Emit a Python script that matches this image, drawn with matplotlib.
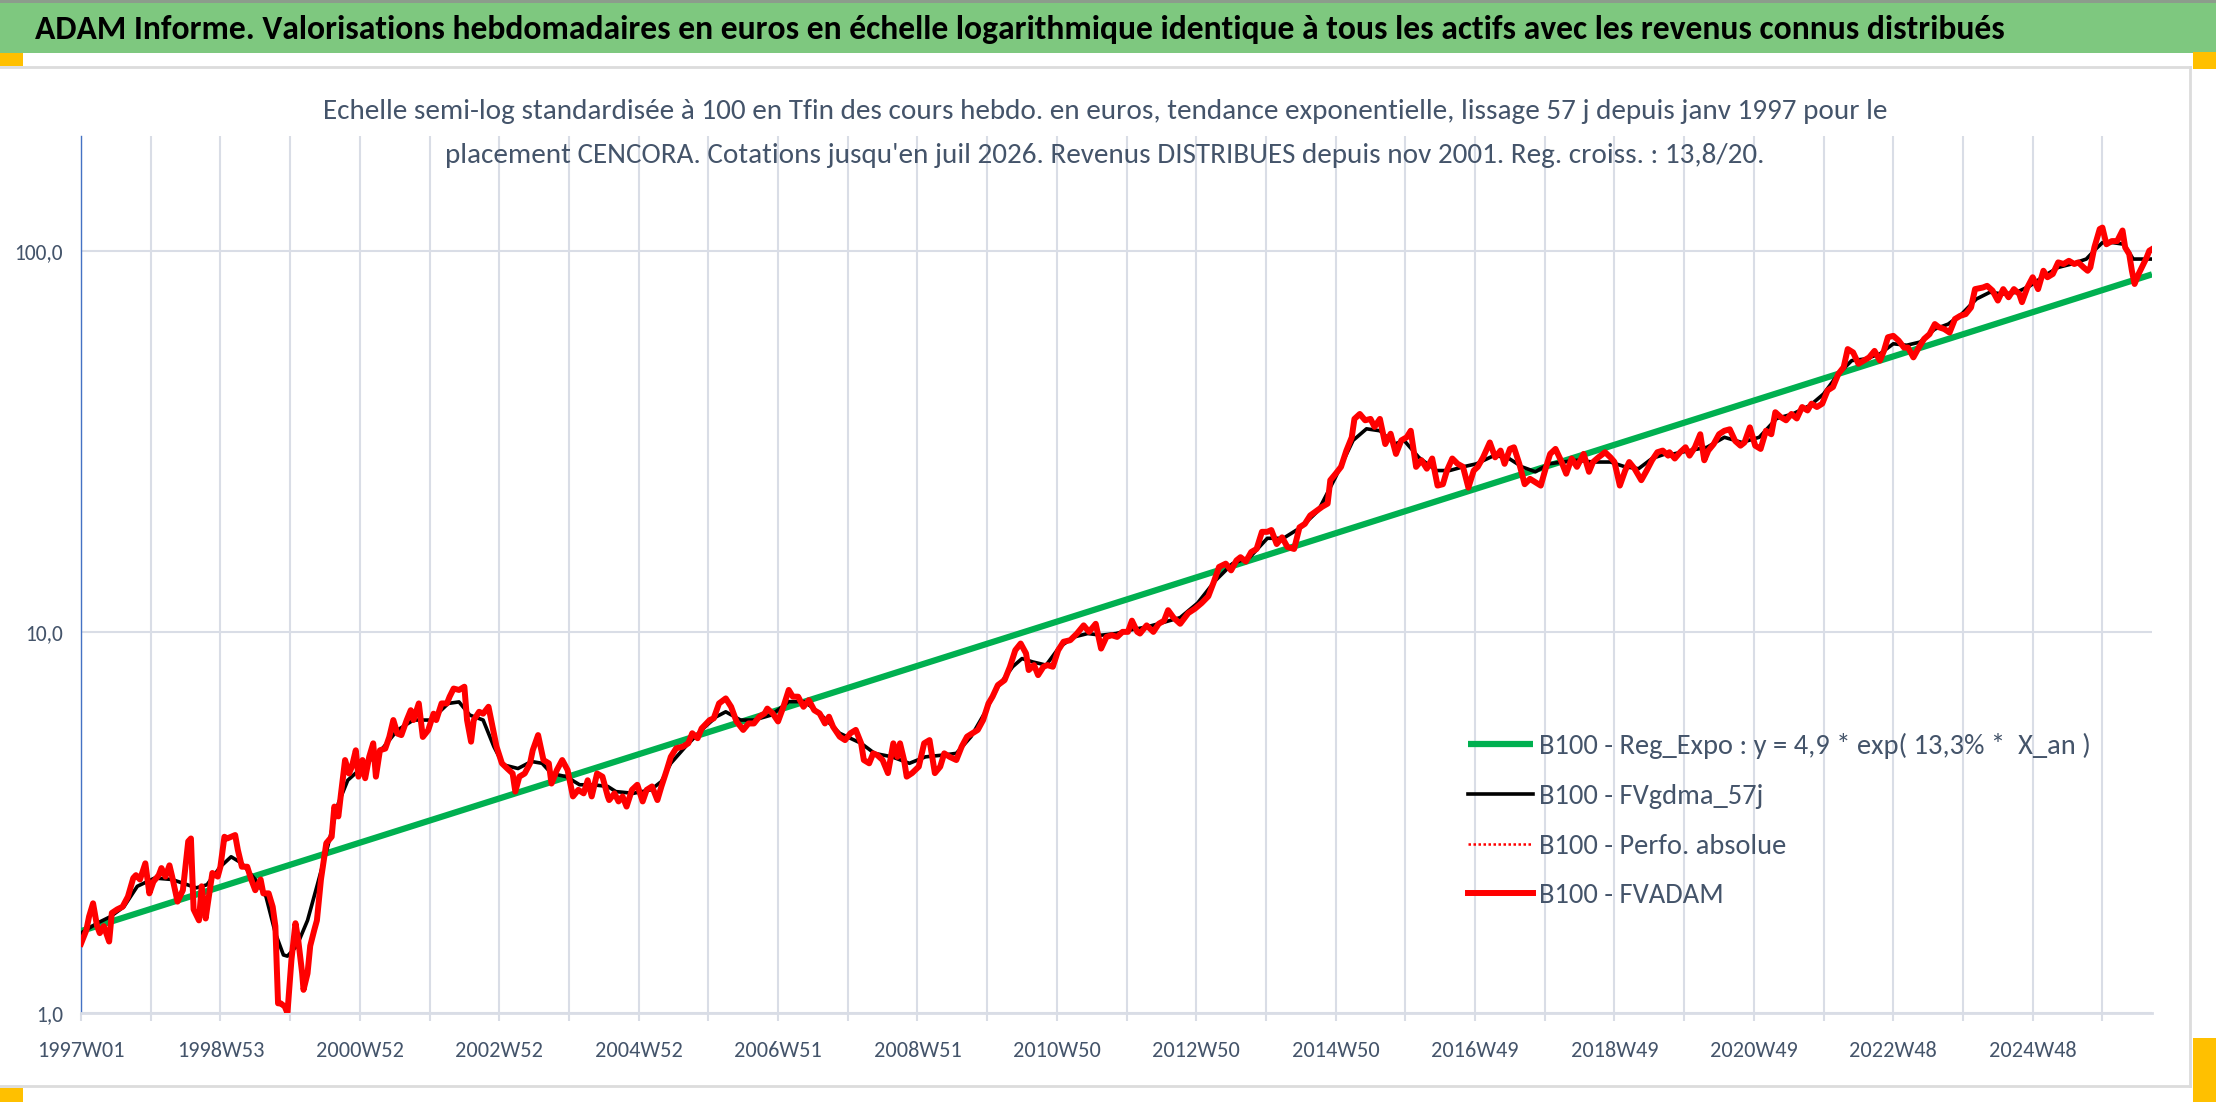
import matplotlib
matplotlib.use("Agg")
import matplotlib.pyplot as plt
from matplotlib.patches import Rectangle
from matplotlib.lines import Line2D
from matplotlib.ticker import FixedLocator, NullLocator, FixedFormatter

FONT = ['Carlito', 'Archivo Narrow', 'DejaVu Sans']
plt.rcParams['font.family'] = FONT

# ---- data (weekly index from 1997W01, values base 100) ----
n_weeks = 1546
week_labels = ['1997W01', '1998W53', '2000W52', '2002W52', '2004W52', '2006W51',
               '2008W51', '2010W50', '2012W50', '2014W50', '2016W49', '2018W49',
               '2020W49', '2022W48', '2024W48']

# FVADAM (red)
red_x = [0, 4, 6, 9, 12, 14, 17, 21, 23, 27, 31, 35, 39, 41, 44, 48, 51, 54, 58, 60,
         63, 66, 68, 72, 76, 80, 82, 84, 88, 90, 93, 95, 98, 102, 104, 107, 109, 112, 115, 117,
         120, 124, 127, 130, 134, 136, 140, 143, 145, 147, 149, 152, 154, 157, 160, 162, 165, 166, 169, 171,
         174, 176, 179, 183, 187, 189, 192, 194, 197, 200, 202, 205, 207, 210, 212, 215, 218, 220, 223, 227,
         230, 233, 236, 239, 243, 246, 248, 252, 255, 259, 263, 265, 269, 273, 275, 278, 282, 286, 288, 291,
         293, 297, 300, 304, 306, 310, 314, 318, 322, 324, 327, 331, 335, 337, 341, 345, 349, 351, 355, 359,
         363, 367, 371, 375, 378, 381, 385, 389, 393,
         394, 398, 401, 404, 407, 411, 415, 419, 422, 426, 430, 433, 437, 440, 444, 449, 453, 456, 460, 463,
         469, 472, 476, 481, 485, 489, 494, 498, 502, 506, 510, 512, 516, 520, 524, 528, 531, 535, 539, 543,
         547, 551, 555, 558, 561, 566, 570, 574, 578, 582, 584, 588, 591, 594, 598, 602, 606, 609, 611, 614,
         616, 620, 625, 629, 633, 637, 641, 644, 648, 653, 657, 661, 665, 669, 673, 677, 680, 684, 689, 693,
         697, 701, 705, 707, 711, 714, 718, 721, 725, 729, 733, 738, 743, 748, 752, 757, 761, 765, 769, 773,
         777, 781, 784, 788,
         790, 795, 800, 804, 808, 811, 815, 820, 826, 831, 836, 841, 845, 849, 854, 858, 862, 865, 869, 873,
         877, 881, 885, 888, 892, 896, 900, 905, 909, 913, 917, 922, 926, 930, 932, 936, 940, 944, 948, 950,
         954, 958, 962, 965, 969, 973, 977, 981, 985, 989, 992, 996, 1000, 1004, 1008, 1012, 1016, 1019, 1023, 1027,
         1031, 1035, 1039, 1042, 1046, 1051, 1055, 1059, 1062, 1066, 1069, 1073, 1077, 1081, 1085, 1089, 1093, 1096, 1100, 1104,
         1108, 1112, 1116, 1121, 1125, 1128, 1132, 1137, 1141, 1144, 1148, 1152, 1155, 1159, 1164, 1168, 1172, 1176, 1180, 1184,
         1185, 1189, 1193, 1197, 1200, 1204, 1208, 1211, 1214, 1218, 1222, 1226, 1230, 1234, 1238, 1241, 1245, 1249, 1253, 1257,
         1261, 1264, 1268, 1272, 1276, 1280, 1284, 1288, 1291, 1295, 1299, 1303, 1307, 1311, 1315, 1318, 1322, 1326, 1330, 1334,
         1338, 1342, 1345, 1348, 1352, 1356, 1360, 1363, 1367, 1371, 1375, 1379, 1383, 1386, 1390, 1394, 1398, 1402, 1406, 1410,
         1413, 1419, 1422, 1426, 1430, 1434, 1438, 1442, 1446, 1448, 1452, 1456, 1460, 1464, 1467, 1471, 1475, 1479, 1483, 1487,
         1490, 1494, 1497, 1499, 1502, 1506, 1508, 1511, 1515, 1519, 1523, 1525, 1528, 1530, 1532, 1535, 1538, 1541, 1543, 1545]
red_y = [1.52, 1.65, 1.79, 1.94, 1.69, 1.62, 1.69, 1.54, 1.83, 1.87, 1.90, 2.02, 2.26, 2.30, 2.24, 2.47, 2.06, 2.21, 2.30, 2.40,
         2.28, 2.44, 2.28, 1.96, 2.10, 2.82, 2.87, 1.87, 1.75, 2.15, 1.77, 1.98, 2.33, 2.28, 2.42, 2.90, 2.87, 2.90, 2.93, 2.68,
         2.42, 2.42, 2.24, 2.10, 2.24, 2.06, 2.06, 1.90, 1.69, 1.06, 1.06, 1.04, 1.00, 1.38, 1.72, 1.56, 1.27, 1.15, 1.27, 1.50,
         1.65, 1.75, 2.24, 2.79, 2.90, 3.48, 3.28, 3.77, 4.61, 4.25, 4.42, 4.89, 4.17, 4.61, 4.13, 4.70, 5.10, 4.17, 4.89, 4.94,
         5.30, 5.87, 5.41, 5.36, 5.87, 6.23, 5.87, 6.49, 5.30, 5.52, 6.10, 5.87, 6.49, 6.49, 6.76, 7.10, 7.04, 7.18, 5.87, 5.15,
         5.87, 6.17, 6.10, 6.36, 5.87, 5.00, 4.52, 4.38, 4.25, 3.81, 4.17, 4.25, 4.52, 4.89, 5.36, 4.61, 4.52, 4.00, 4.34, 4.61,
         4.34, 3.70, 3.85, 3.77, 4.08, 3.70, 4.25, 4.17, 3.70,
         3.62, 3.77, 3.59, 3.70, 3.48, 3.85, 3.97, 3.59, 3.85, 3.93, 3.62, 3.93, 4.34, 4.70, 4.95, 5.00, 5.10, 5.42, 5.26, 5.58,
         5.87, 5.93, 6.49, 6.69, 6.36, 5.82, 5.53, 5.75, 5.75, 5.99, 6.11, 6.29, 6.11, 5.82, 6.36, 7.04, 6.76, 6.76, 6.36, 6.62,
         6.23, 6.11, 5.75, 5.99, 5.64, 5.31, 5.20, 5.42, 5.53, 5.10, 4.61, 4.52, 4.80, 4.75, 4.61, 4.26, 5.10, 4.70, 5.10, 4.61,
         4.17, 4.26, 4.43, 5.10, 5.20, 4.26, 4.43, 4.80, 4.70, 4.61, 5.00, 5.31, 5.42, 5.53, 5.87, 6.49, 6.76, 7.25, 7.47, 8.10,
         8.95, 9.32, 8.78, 7.94, 8.18, 7.70, 8.10, 8.18, 8.10, 8.95, 9.42, 9.51, 9.90, 10.4, 10.0, 10.5, 9.04, 9.70, 9.80, 9.70,
         10.0, 10.0, 10.7, 10.0,
         9.9, 10.4, 10.0, 10.5, 10.7, 11.4, 10.9, 10.5, 11.2, 11.5, 11.9, 12.4, 13.5, 14.8, 15.1, 14.5, 15.4, 15.7, 15.3, 16.2,
         16.5, 18.3, 18.3, 18.5, 17.0, 17.7, 16.7, 16.5, 18.8, 19.2, 20.2, 20.8, 21.3, 21.7, 25.0, 26.0, 27.1, 29.9, 32.4, 36.2,
         37.3, 35.9, 36.2, 34.5, 36.2, 31.1, 33.1, 29.3, 31.8, 32.4, 33.7, 27.1, 28.2, 26.8, 28.5, 24.2, 24.4, 26.5, 28.5, 27.6,
         27.1, 23.9, 26.5, 27.1, 28.7, 31.4, 28.7, 29.9, 27.6, 30.2, 30.5, 27.6, 24.4, 25.2, 24.7, 24.2, 27.1, 29.3, 30.2, 28.2,
         26.0, 28.5, 27.1, 29.3, 26.3, 27.9, 28.7, 29.6, 28.7, 27.9, 24.2, 26.5, 27.9, 26.8, 25.0, 26.5, 28.2, 29.6, 29.9, 29.0,
         29.6, 28.5, 29.6, 30.5, 29.0, 30.5, 33.0, 28.2, 29.9, 31.1, 33.0, 33.7, 34.0, 31.7, 30.8, 31.4, 34.4, 30.8, 30.2, 33.7,
         33.0, 37.7, 36.6, 35.9, 37.3, 36.3, 38.9, 38.1, 39.7, 38.9, 39.7, 43.0, 43.9, 47.5, 49.5, 55.2, 54.1, 50.5, 51.5, 52.5,
         54.6, 51.5, 54.6, 59.3, 59.8, 58.1, 55.7, 55.7, 52.5, 55.7, 58.7, 60.4, 64.2, 63.0, 62.3, 61.0, 66.2, 67.5, 68.2, 71.0,
         79.3, 80.1, 80.9, 78.6, 74.0, 79.3, 75.5, 79.3, 77.0, 73.3, 80.1, 85.2, 79.3, 88.6, 85.2, 86.9, 93.2, 92.3, 94.1, 92.3,
         93.2, 90.4, 88.6, 90.4, 102, 114, 115, 104, 106, 106, 113, 102, 98, 88.6, 81.8, 86.9, 91.3, 96.0, 100, 101]

# FVgdma_57j (black, smoothed)
black_x = [0, 12, 22, 32, 42, 55, 68, 76, 86, 94, 104, 112, 120, 130, 138, 145, 151, 154, 161, 169,
           176, 184, 192, 199, 210, 223, 236, 248, 261, 274, 282, 290, 300, 308, 315, 326, 336, 344, 351, 362,
           372, 382, 393, 399, 412, 425, 433, 440, 451, 463, 474, 481, 492, 502, 515, 528, 540, 551, 566, 582,
           592, 605, 618, 630, 643, 653, 664, 674, 684, 695, 702, 710, 720, 730, 741, 751, 761, 772, 782, 795,
           808, 820, 833, 846, 859, 872, 885, 897, 910, 923, 936, 949, 959, 969, 980, 987, 998, 1011, 1021, 1031,
           1041, 1054, 1064, 1075, 1085, 1095, 1105, 1116, 1128, 1141, 1152, 1162, 1172, 1182, 1188, 1200, 1213, 1226, 1239, 1252,
           1265, 1277, 1290, 1300, 1311, 1321, 1331, 1342, 1352, 1362, 1372, 1383, 1393, 1403, 1414, 1424, 1434, 1444, 1454, 1465,
           1475, 1485, 1496, 1503, 1508, 1516, 1524, 1531, 1545]
black_y = [1.62, 1.72, 1.79, 1.90, 2.15, 2.26, 2.24, 2.19, 2.13, 2.17, 2.42, 2.57, 2.47, 2.24, 2.02, 1.62, 1.42, 1.41, 1.50, 1.75,
           2.15, 2.73, 3.55, 4.08, 4.42, 4.85, 5.52, 5.87, 5.87, 6.49, 6.55, 6.05, 5.87, 5.00, 4.48, 4.38, 4.57, 4.52, 4.25, 4.17,
           3.97, 3.97, 3.93, 3.81, 3.77, 3.85, 4.05, 4.52, 5.00, 5.53, 5.99, 6.17, 5.87, 5.87, 6.05, 6.56, 6.56, 6.11, 5.42, 5.10,
           4.80, 4.70, 4.52, 4.70, 4.75, 4.80, 5.31, 6.11, 7.17, 8.10, 8.51, 8.34, 8.18, 9.13, 9.70, 9.90, 9.80, 9.90, 10.1, 10.3,
           10.6, 10.9, 11.9, 13.6, 15.1, 15.7, 17.6, 17.6, 18.8, 20.8, 25.5, 31.8, 34.1, 33.7, 31.1, 31.8, 28.7, 26.5, 26.5, 27.1,
           27.6, 29.0, 28.7, 27.1, 26.3, 27.6, 27.9, 28.2, 27.9, 27.9, 27.1, 26.8, 28.5, 29.3, 29.3, 29.9, 30.5, 32.4, 31.4, 32.4,
           36.3, 37.3, 39.3, 42.1, 47.5, 51.5, 52.0, 53.6, 57.0, 56.5, 57.6, 62.3, 64.2, 68.2, 74.7, 77.8, 77.0, 77.8, 80.9, 86.1,
           90.4, 92.3, 95.1, 101, 105, 105, 104, 95.1, 95.1]

# Reg_Expo (green) : exponential trend, start and end values
trend_x = [0, 1545]
trend_y = [1.64, 86.7]

GREEN = '#00b050'
RED = '#ff0000'
TXT = '#44546a'
GRID = '#d9dde6'

fig = plt.figure(figsize=(22.16, 11.02), dpi=100)
W, H = 2216.0, 1102.0

# header band
fig.patches.append(Rectangle((0, 1 - 53 / H), 1, 53 / H, transform=fig.transFigure,
                             facecolor='#7ec87f', edgecolor='none', zorder=0))
fig.patches.append(Rectangle((0, 1 - 3 / H), 1, 3 / H, transform=fig.transFigure,
                             facecolor='#8c9c8c', edgecolor='none', zorder=1))
fig.text(35 / W, 1 - 29 / H, "ADAM Informe. Valorisations hebdomadaires en euros en échelle logarithmique "
         "identique à tous les actifs avec les revenus connus distribués",
         fontsize=24.2, fontweight='bold', color='black', va='center', ha='left', family=FONT)

# chart frame lines and corner handles
fig.lines.append(Line2D([0, 2190 / W], [1 - 67 / H, 1 - 67 / H], transform=fig.transFigure,
                        color='#dcdcdc', lw=2))
fig.lines.append(Line2D([0, 2190 / W], [1 - 1086 / H, 1 - 1086 / H], transform=fig.transFigure,
                        color='#dcdcdc', lw=2))
fig.lines.append(Line2D([2190 / W, 2190 / W], [1 - 67 / H, 1 - 1086 / H], transform=fig.transFigure,
                        color='#dcdcdc', lw=2))
for (x0, y0, w, h) in [(0, 53, 23, 13), (2193, 52, 23, 17), (0, 1088, 23, 14), (2193, 1038, 23, 64)]:
    fig.patches.append(Rectangle((x0 / W, 1 - (y0 + h) / H), w / W, h / H, transform=fig.transFigure,
                                 facecolor='#ffc000', edgecolor='none', zorder=2))

# subtitle
fig.text(1105 / W, 1 - 111 / H, "Echelle semi-log standardisée à 100 en Tfin des cours hebdo. en euros, "
         "tendance exponentielle, lissage 57 j depuis janv 1997 pour le",
         fontsize=21, color=TXT, ha='center', va='center', family=FONT)
fig.text(1105 / W, 1 - 156 / H, "placement CENCORA. Cotations jusqu'en juil 2026. Revenus DISTRIBUES "
         "depuis nov 2001. Reg. croiss. : 13,8/20.",
         fontsize=21, color=TXT, ha='center', va='center', family=FONT)

ax = fig.add_axes([81 / W, 1 - 1013 / H, (2152 - 81) / W, (1013 - 136) / H])
ax.set_yscale('log')
ax.set_xlim(0, n_weeks - 1)
ax.set_ylim(1, 200)

ax.plot(trend_x, trend_y, color=GREEN, lw=4.5, solid_capstyle='butt',
        label='B100 - Reg_Expo : y = 4,9 * exp( 13,3% *  X_an )', zorder=3)
ax.plot(black_x, black_y, color='black', lw=2.6, label='B100 - FVgdma_57j', zorder=4)
ax.plot(red_x, red_y, color=RED, lw=1.8, ls=(0, (1, 1)), label='B100 - Perfo. absolue', zorder=3)
ax.plot(red_x, red_y, color=RED, lw=4.3, label='B100 - FVADAM', zorder=5)

# axes styling
for s in ['top', 'right']:
    ax.spines[s].set_visible(False)
ax.spines['left'].set_color('#4472c4')
ax.spines['left'].set_linewidth(1.0)
ax.spines['bottom'].set_color(GRID)
ax.spines['bottom'].set_linewidth(2.0)

ax.yaxis.set_major_locator(FixedLocator([1, 10, 100]))
ax.yaxis.set_major_formatter(FixedFormatter(['1,0', '10,0', '100,0']))
ax.yaxis.set_minor_locator(NullLocator())
ax.tick_params(axis='y', length=0, pad=13, labelsize=15.5, labelcolor=TXT)

grid_pos = list(range(0, n_weeks, 52))
ax.xaxis.set_major_locator(FixedLocator(grid_pos))
xlabels = [week_labels[i // 2] if i % 2 == 0 else '' for i in range(len(grid_pos))]
ax.xaxis.set_major_formatter(FixedFormatter(xlabels))
ax.tick_params(axis='x', length=6, width=1.5, color=GRID, pad=14, labelsize=16, labelcolor=TXT)

ax.grid(True, which='major', color=GRID, lw=1.5)
ax.set_axisbelow(True)

leg = ax.legend(loc='upper left', bbox_to_anchor=(1468 / W, 1 - 733 / H), bbox_transform=fig.transFigure,
                frameon=False, borderaxespad=0, borderpad=0, handlelength=2.3,
                handletextpad=0.2, labelspacing=0.87, prop={'family': FONT, 'size': 20.5})
for t in leg.get_texts():
    t.set_color(TXT)

fig.savefig('out.png', dpi=100, facecolor='white')
